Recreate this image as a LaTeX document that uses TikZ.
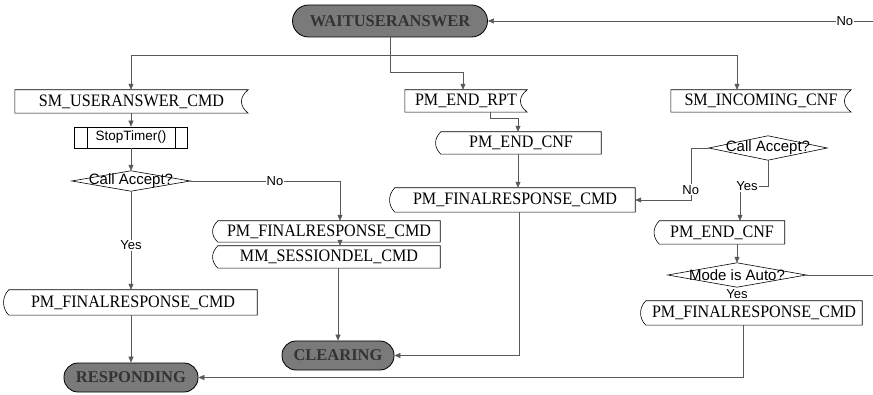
\documentclass[tikz,border=0pt]{standalone}
\usepackage{fontspec}
\setmainfont{Liberation Serif}
\newfontfamily\sansf{Liberation Sans}
\newfontfamily\boxf[FakeStretch=0.92]{Liberation Serif}
\usetikzlibrary{arrows.meta,calc}

\tikzset{
 boxtxt/.style={draw=none, inner sep=0pt, font=\boxf\fontsize{17.5}{19}\selectfont},
 shp/.style={draw=black, line width=0.6pt},
 ln/.style={draw=black!65, line width=0.5pt},
 arr/.style={ln, -{Triangle[length=6pt,width=5pt]}},
 lbl/.style={fill=white, inner sep=1pt, font=\sansf\fontsize{13}{15}\selectfont},
 dtxt/.style={draw=none, inner sep=0pt, font=\sansf\fontsize{15}{17}\selectfont},
 pill/.style={draw=black, line width=0.8pt, fill=black!52, text=black!80, inner sep=0pt, font=\bfseries\fontsize{16.5}{18}\selectfont},
 subr/.style={draw=black, line width=0.6pt, inner sep=0pt, font=\sansf\fontsize{13.5}{15}\selectfont},
}
\newcommand\inshape[1]{\draw[shp] (#1.north west) -- (#1.north east) .. controls ([xshift=-9pt,yshift=-7pt]#1.north east) and ([xshift=-9pt,yshift=7pt]#1.south east) .. (#1.south east) -- (#1.south west) -- cycle;}
\newcommand\outshape[1]{\draw[shp] (#1.north east) -- (#1.north west) .. controls ([xshift=-7pt,yshift=-7pt]#1.north west) and ([xshift=-7pt,yshift=7pt]#1.south west) .. (#1.south west) -- (#1.south east) -- cycle;}
\newcommand\dmd[1]{\draw[shp] (#1.west) -- (#1.north) -- (#1.east) -- (#1.south) -- cycle;}

\begin{document}
\begin{tikzpicture}[x=1pt,y=-1pt]
\fill[white] (0,0) rectangle (873,395);
\useasboundingbox (0,0) rectangle (873,395);

% states
\node[pill, rounded corners=16pt, minimum width=195pt, minimum height=32pt] (wait) at (390,21) {WAITUSERANSWER};
\node[pill, rounded corners=14pt, minimum width=134pt, minimum height=29pt] (resp) at (131,377.5) {RESPONDING};
\node[pill, rounded corners=14pt, minimum width=112pt, minimum height=29pt] (clr) at (338,355.5) {CLEARING};

% message boxes
\node[boxtxt, minimum width=233pt, minimum height=23pt] (smua) at (131.5,101.5) {SM\_USERANSWER\_CMD};
\node[boxtxt, minimum width=122pt, minimum height=22pt] (pmrpt) at (466,101) {PM\_END\_RPT};
\node[boxtxt, minimum width=180pt, minimum height=22pt] (sminc) at (761,101) {SM\_INCOMING\_CNF};
\node[boxtxt, minimum width=248pt, minimum height=25pt] (pmf1) at (133,302.5) {PM\_FINALRESPONSE\_CMD};
\node[boxtxt, minimum width=222pt, minimum height=21pt] (pmf2) at (329,231.5) {PM\_FINALRESPONSE\_CMD};
\node[boxtxt, minimum width=222pt, minimum height=22pt] (mmsd) at (329,257) {MM\_SESSIONDEL\_CMD};
\node[boxtxt, minimum width=160pt, minimum height=22pt] (pmec1) at (521,143) {PM\_END\_CNF};
\node[boxtxt, minimum width=240pt, minimum height=24pt] (pmf3) at (515,200) {PM\_FINALRESPONSE\_CMD};
\node[boxtxt, minimum width=125pt, minimum height=23pt] (pmec2) at (722,232.5) {PM\_END\_CNF};
\node[boxtxt, minimum width=216pt, minimum height=24pt] (pmf4) at (754,313) {PM\_FINALRESPONSE\_CMD};
\inshape{smua}\inshape{pmrpt}\inshape{sminc}
\outshape{pmf1}\outshape{pmf2}\outshape{mmsd}\outshape{pmec1}\outshape{pmf3}\outshape{pmec2}\outshape{pmf4}

% subroutine
\node[subr, minimum width=113pt, minimum height=21pt] (stop) at (131,137.5) {StopTimer()};
\draw[shp] ([xshift=13pt]stop.north west) -- ([xshift=13pt]stop.south west);
\draw[shp] ([xshift=-13pt]stop.north east) -- ([xshift=-13pt]stop.south east);

% decisions
\node[dtxt, minimum width=118pt, minimum height=20pt] (ca1) at (131,181) {Call Accept?};
\node[dtxt, minimum width=118pt, minimum height=24pt] (ca2) at (768,148) {Call Accept?};
\node[dtxt, minimum width=138pt, minimum height=24pt] (ca3) at (737,275) {Mode is Auto?};
\dmd{ca1}\dmd{ca2}\dmd{ca3}

% helper coordinates
\coordinate (yA) at (0,55);
\coordinate (yB) at (0,72);
\coordinate (rE1) at (873,21);
\coordinate (rE2) at (873,275);
\coordinate (aS) at (smua.north -| stop.north);
\coordinate (aI) at ([xshift=-24pt]sminc.north);
\coordinate (aR) at ([xshift=-3pt]pmrpt.north);
\coordinate (bR) at ([xshift=24pt]pmrpt.south);
\coordinate (tC) at ([xshift=-3pt]pmec1.north);
\coordinate (bC) at ([xshift=-3pt]pmec1.south);
\coordinate (bF3) at ([xshift=4pt]pmf3.south);
\coordinate (t340) at ([xshift=11pt]pmf2.north);
\coordinate (b340) at ([xshift=11pt]pmf2.south);
\coordinate (yR) at (740,186);
\coordinate (bE2) at ([xshift=15pt]pmec2.south);
\coordinate (bF4) at ([xshift=-11pt]pmf4.south);

% connectors
\draw[arr] (rE1) -- (wait.east) node[lbl, pos=0.073] {No};
\draw[arr] (wait.south) -- (wait.south |- yB) -| (aR);
\draw[ln] (aS |- yA) -- (aI |- yA);
\draw[arr] (aS |- yA) -- (aS);
\draw[arr] (aI |- yA) -- (aI);

\draw[arr] (smua.south -| stop.north) -- (stop.north);
\draw[arr] (stop.south) -- (ca1.north);
\draw[arr] (ca1.east) -| (t340) node[lbl, pos=0.283] {No};
\draw[arr] (ca1.south) -- (ca1.south |- pmf1.north) node[lbl, pos=0.55] {Yes};
\draw[arr] (pmf1.south -| resp.north) -- (resp.north);
\draw[arr] (b340) -- (b340 |- mmsd.north);
\draw[arr] (mmsd.south -| clr.north) -- (clr.north);

\draw[arr] (bR) -- ++(0,6) -| (tC);
\draw[arr] (bC) -- (bC |- pmf3.north);
\draw[arr] (bF3) |- (clr.east);

\draw[arr] (ca2.west) -- ++(-18,0) |- (pmf3.east) node[lbl, pos=0.4] {No};
\draw[ln] (ca2.south) |- (yR);
\draw[arr] (yR) -- (yR |- pmec2.north);
\node[lbl] (yes2) at (747,186) {Yes};
\draw[arr] (bE2) -- (ca3.north);
\draw[ln] (ca3.east) -- (rE2);
\node[lbl] (yes3) at (737,294) {Yes};
\draw[arr] (bF4) |- (resp.east);
\end{tikzpicture}
\end{document}
